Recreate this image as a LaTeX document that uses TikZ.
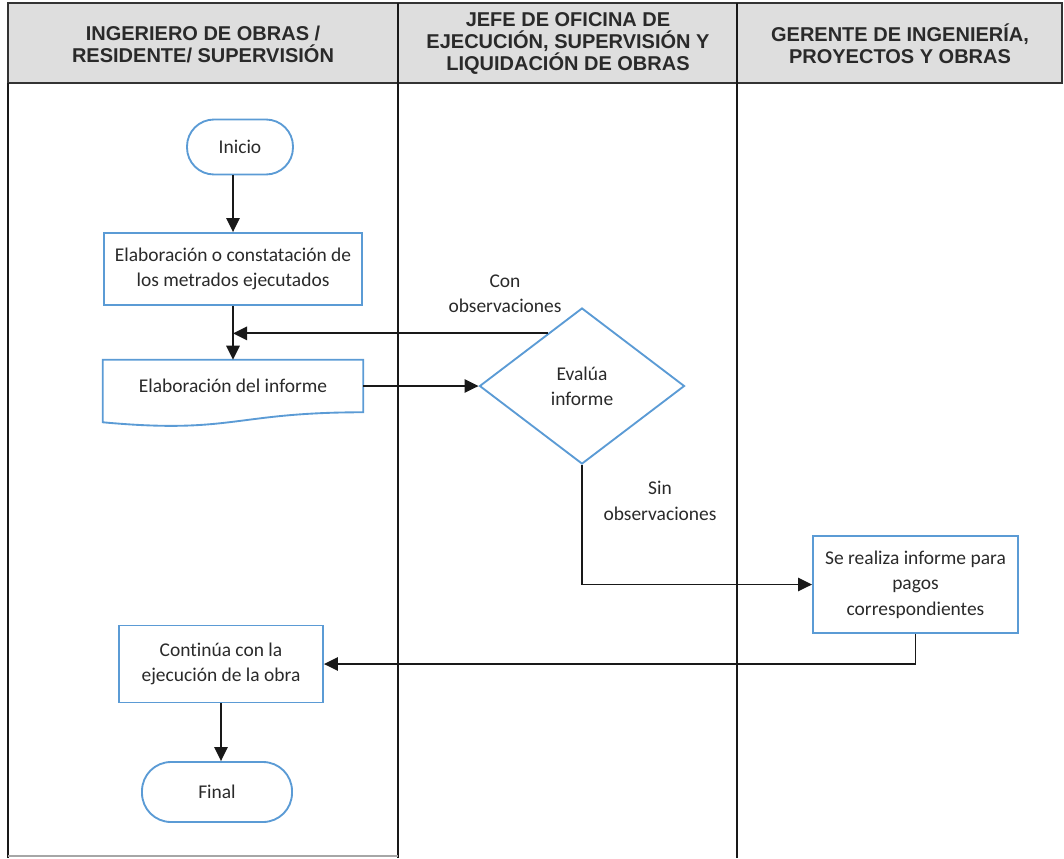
\documentclass[tikz,border=0pt]{standalone}
\usepackage{fontspec}
\setmainfont{Carlito}[Ligatures=NoCommon]
\newfontfamily\hdrfont{Liberation Sans}
\usetikzlibrary{arrows.meta,shapes.geometric,calc}
\definecolor{boxblue}{HTML}{5B9BD5}
\definecolor{hdrgray}{HTML}{DEDEDE}
\definecolor{txt}{HTML}{2A2A2A}
\begin{document}
\begin{tikzpicture}[x=0.75pt,y=-0.75pt,
  lane/.style={line width=1.35pt, draw=black!90},
  hdrline/.style={line width=1.6pt, draw=black!80},
  hdr/.style={font=\hdrfont\bfseries\fontsize{15}{16.5}\selectfont, text=txt, align=center},
  lbl/.style={font=\fontsize{14.6}{19}\selectfont, text=txt, align=center},
  procbox/.style={rectangle, draw=boxblue, line width=1.4pt, inner sep=0pt, align=center, text=txt,
    font=\fontsize{14.6}{19}\selectfont},
  term/.style={procbox, rounded corners=27*0.75pt},
  decision/.style={procbox, diamond, aspect=1.31},
  docline/.style={draw=boxblue, line width=1.4pt},
  arr/.style={line width=1.3pt, draw=black!90, -{Triangle[length=10.5pt,width=10pt]}}]

% page frame
\useasboundingbox (0,0) rectangle (1064,858);

% swimlane header and lane dividers
\draw[hdrline, fill=hdrgray] (8,3) rectangle (1062,83);
\draw[lane] (8,83) -- (8,858);
\draw[lane] (398,3) -- (398,858);
\draw[lane] (737,3) -- (737,858);
\draw[line width=1pt, draw=black!35] (8,856) -- (398,856);

\node[hdr] (h1) at (203,44) {INGERIERO DE OBRAS /\\RESIDENTE/ SUPERVISIÓN};
\node[hdr] (h2) at (568,43) {JEFE DE OFICINA DE\\EJECUCIÓN, SUPERVISIÓN Y\\LIQUIDACIÓN DE OBRAS};
\node[hdr] (h3) at (900,44) {GERENTE DE INGENIERÍA,\\PROYECTOS Y OBRAS};

% flow nodes
\node[term, minimum width=106*0.75pt, minimum height=55*0.75pt] (inicio) at (240,147) {Inicio};
\node[procbox, minimum width=258*0.75pt, minimum height=72*0.75pt] (rect1) at (233,269)
  {Elaboración o constatación de\\los metrados ejecutados};
\node[rectangle, inner sep=0pt, minimum width=260*0.75pt, minimum height=52*0.75pt, text=txt,
  font=\fontsize{14.6}{19}\selectfont] (rect2) at (233,386) {Elaboración del informe};
\draw[docline] (rect2.north west) -- (rect2.north east) -- (rect2.south east)
  .. controls (rect2.south) and ($(rect2.south)+(0,22)$) .. ($(rect2.south west)+(0,10)$) -- cycle;
\node[decision, minimum width=205*0.75pt, minimum height=156*0.75pt] (dia) at (582,386) {Evalúa\\informe};
\node[procbox, minimum width=205*0.75pt, minimum height=97*0.75pt] (box3) at (915.5,584.5)
  {Se realiza informe para\\pagos\\correspondientes};
\node[procbox, minimum width=204*0.75pt, minimum height=77*0.75pt] (rect4) at (221,664)
  {Continúa con la\\ejecución de la obra};
\node[term, minimum width=150*0.75pt, minimum height=60*0.75pt, rounded corners=29*0.75pt] (final) at (217,792) {Final};

% branch labels
\node[lbl] (lcon) at (505,294) {Con\\observaciones};
\node[lbl] (lsin) at (660,501) {Sin\\observaciones};

% connectors
\draw[arr] (inicio.south -| rect1.north) -- (rect1.north);
\draw[arr] (rect1.south) -- (rect2.north);
\coordinate (fb) at ($(dia.west)!0.667!(dia.north)$);
\coordinate (mid) at ($(rect1.south)!0.5!(rect2.north)$);
\draw[arr] (fb) -- (fb -| mid);
\draw[arr] (rect2.east) -- (dia.west);
\draw[arr] (dia.south) |- (box3.west);
\draw[arr] (box3.south) |- (rect4.east);
\draw[arr] (rect4.south) -- (rect4.south |- final.north);

\end{tikzpicture}
\end{document}
